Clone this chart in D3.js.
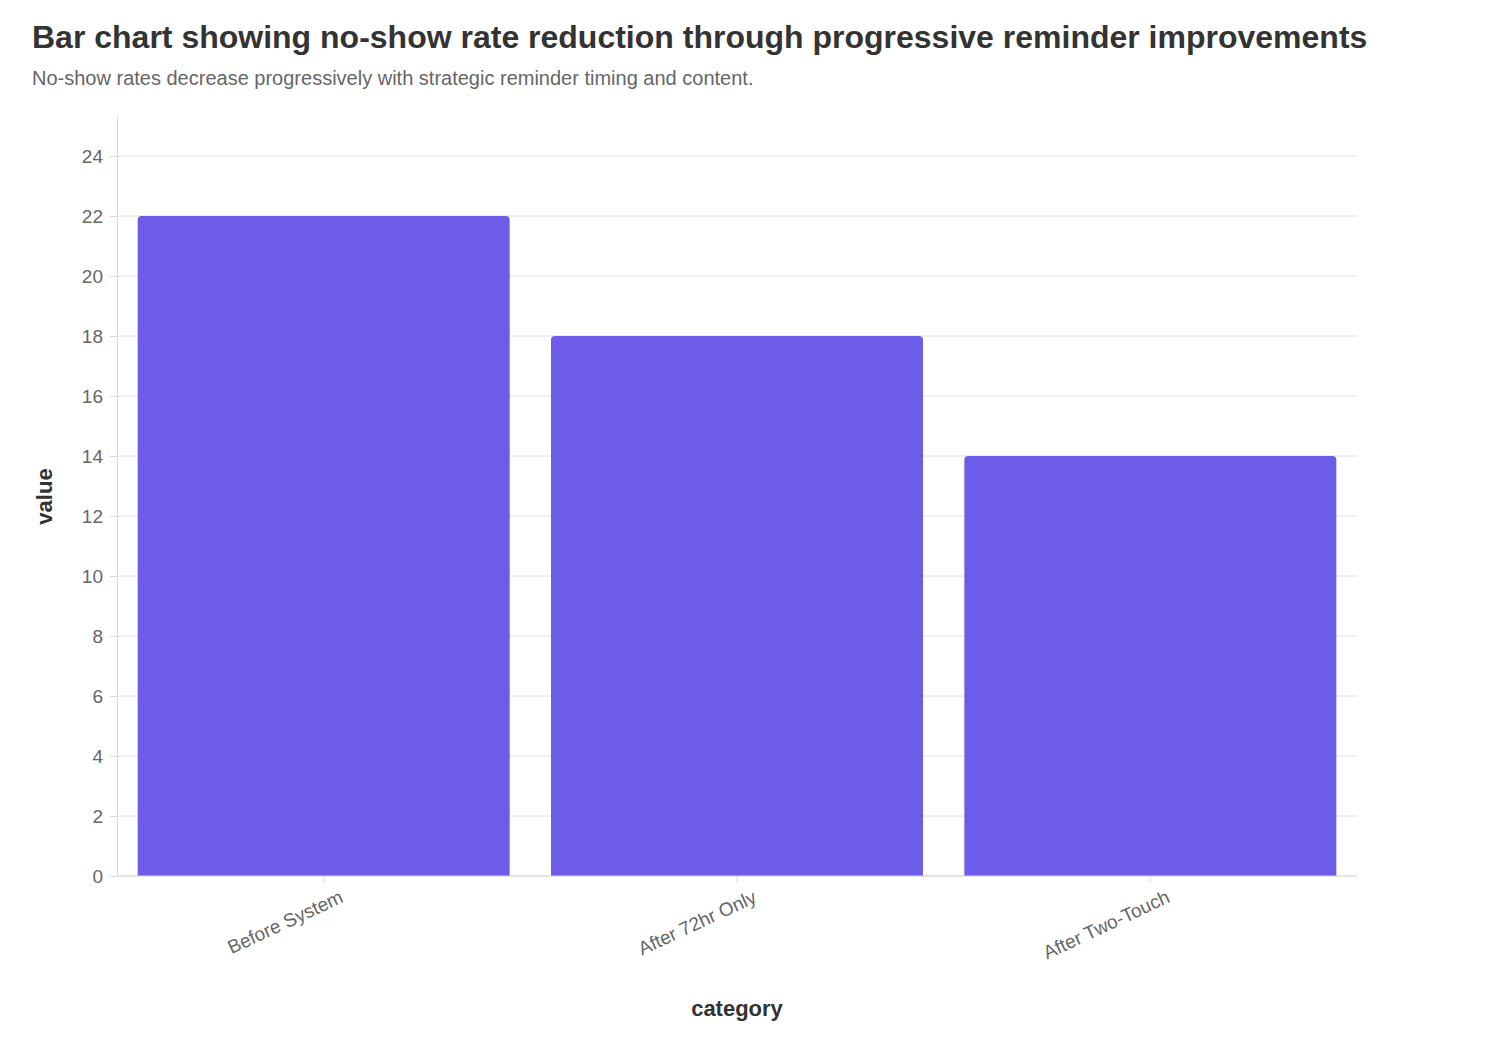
<!DOCTYPE html>
<html>
<head>
<meta charset="utf-8">
<script src="https://cdn.jsdelivr.net/npm/d3@7"></script>
<style>
  body { margin: 0; background: #fff; font-family: "Liberation Sans", Arial, sans-serif; }
  .grid line { stroke: #e0e0e0; }
  .axis path, .axis line { stroke: #d9d9d9; }
  .axis text { fill: #666; font-size: 19px; }
</style>
</head>
<body>
<script>
(function(){
    // chart data
    var categories = ["Before System", "After 72hr Only", "After Two-Touch"];
    var values = [22, 18, 14];
    var yTicks = [0, 2, 4, 6, 8, 10, 12, 14, 16, 18, 20, 22, 24];

    var width = 1502, height = 1050;
    var left = 117, right = 1357, top = 117, bottom = 876;

    var svg = d3.select("body").append("svg")
        .attr("width", width)
        .attr("height", height);

    // title and subtitle
    svg.append("text").attr("x", 32).attr("y", 48)
        .style("font-size", "32px").style("font-weight", "bold").style("fill", "#333")
        .text("Bar chart showing no-show rate reduction through progressive reminder improvements");
    svg.append("text").attr("x", 32).attr("y", 85)
        .style("font-size", "20px").style("fill", "#666")
        .text("No-show rates decrease progressively with strategic reminder timing and content.");

    var x = d3.scaleBand().domain(categories).range([left, right])
        .paddingInner(0.1).paddingOuter(0.05);
    var y = d3.scaleLinear().domain([0, 25.3]).range([bottom, top]);

    // gridlines
    svg.append("g").attr("class", "grid")
        .selectAll("line").data(yTicks).enter().append("line")
        .attr("x1", left).attr("x2", right)
        .attr("y1", function(d){ return y(d); })
        .attr("y2", function(d){ return y(d); });

    // bars with rounded top corners
    var r = 4;
    svg.selectAll(".bar").data(values).enter().append("path")
        .attr("class", "bar")
        .attr("fill", "#6c5ce7")
        .attr("d", function(d, i){
            var x0 = x(categories[i]), w = x.bandwidth(), y0 = y(d), y1 = y(0);
            return "M" + x0 + "," + y1 + "V" + (y0 + r) + "Q" + x0 + "," + y0 + " " + (x0 + r) + "," + y0 +
                "H" + (x0 + w - r) + "Q" + (x0 + w) + "," + y0 + " " + (x0 + w) + "," + (y0 + r) + "V" + y1 + "Z";
        });

    // y axis
    svg.append("g").attr("class", "axis")
        .attr("transform", "translate(" + left + ",0)")
        .call(d3.axisLeft(y).tickValues(yTicks).tickSize(7).tickPadding(7).tickSizeOuter(0))
        .selectAll("text").style("font-size", "19px");

    // x axis
    var xa = svg.append("g").attr("class", "axis")
        .attr("transform", "translate(0," + bottom + ")")
        .call(d3.axisBottom(x).tickSize(7).tickSizeOuter(0));
    xa.select(".domain").attr("d", "M" + left + ",0H" + right);
    xa.selectAll("text")
        .style("text-anchor", "end")
        .attr("dx", "8px").attr("dy", "22px")
        .attr("transform", "rotate(-25)");

    // axis titles
    svg.append("text").attr("x", (left + right) / 2).attr("y", 1016)
        .attr("text-anchor", "middle")
        .style("font-size", "22px").style("font-weight", "bold").style("fill", "#333")
        .text("category");
    svg.append("text")
        .attr("transform", "translate(52," + ((top + bottom) / 2) + ") rotate(-90)")
        .attr("text-anchor", "middle")
        .style("font-size", "22px").style("font-weight", "bold").style("fill", "#333")
        .text("value");
})();
</script>
</body>
</html>
